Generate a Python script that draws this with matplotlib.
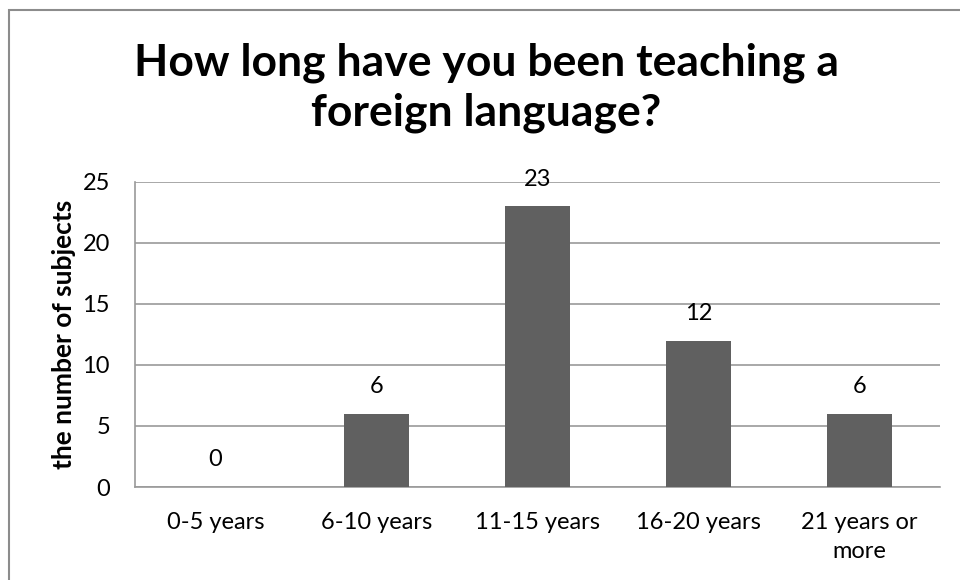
import matplotlib.pyplot as plt
from matplotlib.patches import Rectangle

categories = ['0-5 years', '6-10 years', '11-15 years', '16-20 years', '21 years or\nmore']
counts = [0, 6, 23, 12, 6]
yticks = [0, 5, 10, 15, 20, 25]

plt.rcParams['font.family'] = ['Lato', 'DejaVu Sans']

W, H = 960, 580
fig = plt.figure(figsize=(W / 100, H / 100), dpi=100)
ax = fig.add_axes([135 / W, 1 - 487 / H, (940 - 135) / W, (487 - 182) / H])

x = list(range(len(categories)))
ax.bar(x, counts, width=0.4, color='#606060', zorder=3)
for xi, v in zip(x, counts):
    ax.annotate(str(v), (xi, v), xytext=(0, 12), textcoords='offset points',
                ha='center', va='bottom', fontsize=17, color='black', zorder=4)

ax.set_xlim(-0.5, len(categories) - 0.5)
ax.set_ylim(0, 25)
ax.set_yticks(yticks)
ax.set_xticks(x)
ax.set_xticklabels(categories, fontsize=17, linespacing=1.45)
ax.tick_params(axis='y', labelsize=17, length=0, pad=18)
ax.tick_params(axis='x', length=0, pad=18)
ax.yaxis.grid(True, color='#9a9a9a', linewidth=1.2, zorder=0)
for s in ['top', 'right']:
    ax.spines[s].set_visible(False)
ax.spines['left'].set_color('#9a9a9a')
ax.spines['bottom'].set_color('#9a9a9a')
ax.spines['left'].set_linewidth(1.2)
ax.spines['bottom'].set_linewidth(1.2)

ax.set_ylabel('the number of subjects', fontsize=19, fontweight='bold', labelpad=5)

fig.text(486 / W, 1 - 88 / H, 'How long have you been teaching a\nforeign language?',
         ha='center', va='center', fontsize=32, fontweight='bold', linespacing=1.28)

fig.patches.append(Rectangle((9 / W, -0.1), 1.2, 1 - 10 / H + 0.1,
                             transform=fig.transFigure, fill=False,
                             edgecolor='#8c8c8c', linewidth=1.5))

fig.savefig('out.png', dpi=100)
